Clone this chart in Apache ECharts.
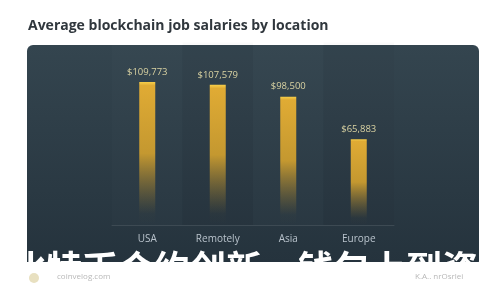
<!DOCTYPE html>
<html>
<head>
<meta charset="utf-8">
<script src="https://cdn.jsdelivr.net/npm/echarts@6/dist/echarts.min.js"></script>
<style>html,body{margin:0;padding:0;background:#fff;}#c{width:500px;height:300px;}</style>
</head>
<body>
<div id="c"></div>
<script>
const categories = ['USA', 'Remotely', 'Asia', 'Europe'];
const salaries = [109773, 107579, 98500, 65883];
const titleText = 'Average blockchain job salaries by location';
const overlayText = '比特币合约创新，钱包上到资金';
const leftMark = 'coinvelog.com';
const rightMark = 'K.A.. nrOsrlei';

const chart = echarts.init(document.getElementById('c'), null, {renderer: 'canvas'});
chart.setOption({
  backgroundColor: '#ffffff',
  animation: false,
  title: {
    text: titleText,
    left: 23, top: 14,
    textStyle: {fontFamily: 'Open Sans', fontWeight: 'bold', fontSize: 14, color: '#30373d'}
  },
  grid: {left: 112, right: 106, top: 42.6, bottom: 75},
  xAxis: {
    type: 'category',
    data: categories,
    axisLine: {lineStyle: {color: 'rgba(255,255,255,0.1)', width: 1}},
    axisTick: {show: false},
    axisLabel: {color: '#b9c3cc', fontSize: 10, fontFamily: 'Open Sans', margin: 9},
    splitArea: {show: true, areaStyle: {color: ['rgba(255,255,255,0.012)', 'rgba(0,0,0,0.02)']}}
  },
  yAxis: {type: 'value', min: 0, max: 140000, show: false, splitLine: {show: false}},
  series: [{
    type: 'bar',
    data: salaries,
    barWidth: 16,
    itemStyle: {
      color: {
        type: 'linear', x: 0, y: 0, x2: 0, y2: 1,
        colorStops: [
          {offset: 0, color: '#f7cf4a'},
          {offset: 0.025, color: '#e0ab34'},
          {offset: 0.5, color: '#c49830'},
          {offset: 0.92, color: 'rgba(150,120,45,0.03)'},
          {offset: 1, color: 'rgba(150,120,45,0)'}
        ]
      }
    },
    label: {
      show: true, position: 'top', distance: 5,
      color: '#d9d2a2', fontSize: 9.5, fontFamily: 'Open Sans',
      formatter: p => '$' + p.value.toLocaleString('en-US')
    }
  }],
  graphic: [
    {
      type: 'rect', z: -10,
      shape: {x: 27, y: 45, width: 452, height: 217, r: [6, 6, 0, 0]},
      style: {
        fill: {
          type: 'linear', x: 0, y: 0, x2: 0, y2: 1,
          colorStops: [{offset: 0, color: '#34454f'}, {offset: 1, color: '#25333d'}]
        }
      }
    },
    {
      type: 'text', z: 100, left: 10, top: 250,
      style: {text: overlayText, fill: '#ffffff', font: 'bold 36px "Noto Sans CJK SC"'}
    },
    {
      type: 'circle', z: 100, shape: {cx: 34, cy: 278, r: 5},
      style: {fill: '#e8e0c0'}
    },
    {
      type: 'text', z: 100, left: 57, top: 273,
      style: {text: leftMark, fill: '#b8b8b8', font: '8px "Open Sans"'}
    },
    {
      type: 'text', z: 100, left: 415, top: 273,
      style: {text: rightMark, fill: '#b8b8b8', font: '8px "Open Sans"'}
    }
  ]
});
</script>
</body>
</html>
